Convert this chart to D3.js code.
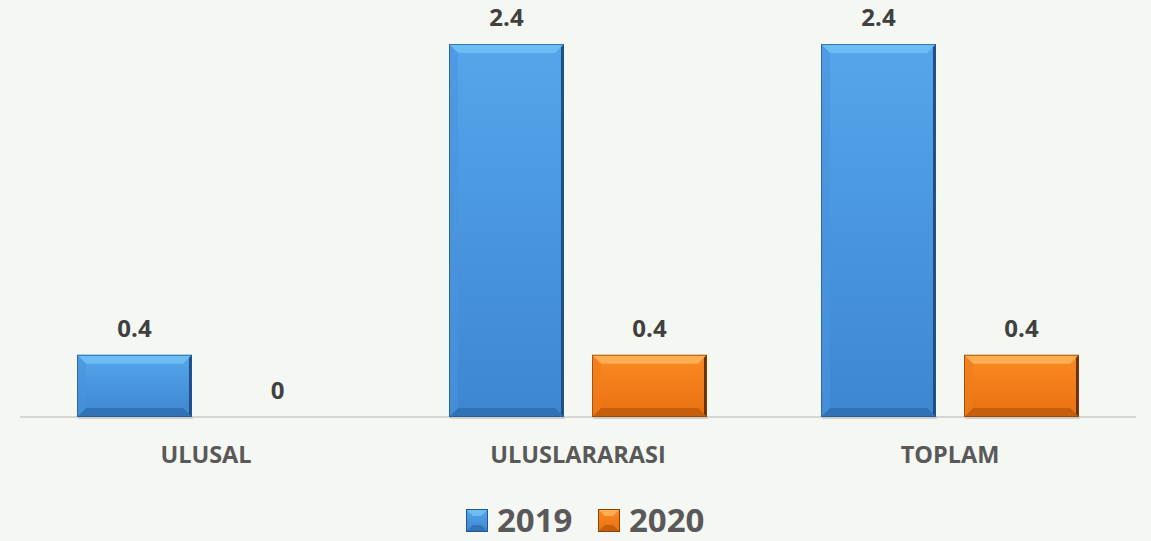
<!DOCTYPE html>
<html>
<head>
<meta charset="utf-8">
<script src="https://cdn.jsdelivr.net/npm/d3@7"></script>
<style>
  html,body{margin:0;padding:0;background:#f5f7f3;}
  svg{display:block;font-family:"Open Sans",sans-serif;}
</style>
</head>
<body>
<div id="chart"></div>
<script>
// --- data ---
const categories = ['ULUSAL','ULUSLARARASI','TOPLAM'];
const series = ['2019','2020'];
const values2019 = [0.4, 2.4, 2.4];
const values2020 = [0, 0.4, 0.4];
const valueLabels2019 = ['0.4','2.4','2.4'];
const valueLabels2020 = ['0','0.4','0.4'];

const W=1151, H=541;
// bevel palettes
const pal = {
  '2019': {a:'#55a6ec', b:'#3d86d0', top:'#6dbdf5', bot:'#2f6fb3', left:'#4a95dc', right:'#1e4f86', edge:'#24558c'},
  '2020': {a:'#fb8a24', b:'#e8700f', top:'#fdae52', bot:'#bf5a0a', left:'#f07c1a', right:'#6b3104', edge:'#8a4206'}
};

const rows = categories.map((c,i)=>({cat:c, vals:[
  {s:'2019', v:values2019[i], lab:valueLabels2019[i]},
  {s:'2020', v:values2020[i], lab:valueLabels2020[i]}
]}));

const svg=d3.select('#chart').append('svg').attr('width',W).attr('height',H);
svg.append('rect').attr('width',W).attr('height',H).attr('fill','#f5f7f3');

const defs=svg.append('defs');
series.forEach(s=>{
  const g=defs.append('linearGradient').attr('id','g'+s).attr('x1',0).attr('y1',0).attr('x2',0).attr('y2',1);
  g.append('stop').attr('offset','0%').attr('stop-color',pal[s].a);
  g.append('stop').attr('offset','100%').attr('stop-color',pal[s].b);
});

const x0=d3.scaleBand().domain(categories).range([20,1136]).paddingInner(0.3065).paddingOuter(0.15325);
const x1=d3.scaleBand().domain(series).range([0,x0.bandwidth()]).paddingInner(0.196).paddingOuter(0);
const y=d3.scaleLinear().domain([0,2.4]).range([417,44]);

// axis baseline
svg.append('line').attr('x1',20).attr('x2',1136).attr('y1',417).attr('y2',417)
  .attr('stroke','#d6d6d4').attr('stroke-width',2);

const groups=svg.append('g').selectAll('g').data(rows).join('g')
  .attr('transform',d=>`translate(${x0(d.cat)},0)`);

groups.each(function(d){
  const g=d3.select(this);
  d.vals.forEach(b=>{
    if(b.v<=0) return;
    const x=x1(b.s), w=x1.bandwidth(), yt=y(b.v), yb=y(0), h=yb-yt, p=pal[b.s];
    const bv=Math.min(9, h/3);
    // shadow
    g.append('rect').attr('x',x+1).attr('y',yb-1).attr('width',w).attr('height',3).attr('fill','#c9c9c7').attr('opacity',0.8);
    g.append('rect').attr('x',x).attr('y',yt).attr('width',w).attr('height',h).attr('fill',`url(#g${b.s})`);
    const poly=(pts,fill,op)=>g.append('polygon').attr('points',pts.map(q=>q.join(',')).join(' ')).attr('fill',fill).attr('opacity',op||1);
    poly([[x,yt],[x+w,yt],[x+w-bv,yt+bv],[x+bv,yt+bv]],p.top);
    poly([[x,yb],[x+w,yb],[x+w-bv,yb-bv],[x+bv,yb-bv]],p.bot,0.85);
    poly([[x,yt],[x+bv,yt+bv],[x+bv,yb-bv],[x,yb]],p.left,0.6);
    poly([[x+w,yt],[x+w-3,yt+3],[x+w-3,yb-3],[x+w,yb]],p.right);
    g.append('rect').attr('x',x+0.5).attr('y',yt+0.5).attr('width',w-1).attr('height',h-1)
      .attr('fill','none').attr('stroke',p.edge).attr('stroke-width',1).attr('opacity',0.7);
  });
  g.selectAll('text.val').data(d.vals).join('text').attr('class','val')
    .attr('x',b=>x1(b.s)+x1.bandwidth()/2).attr('y',b=>y(b.v)-18)
    .attr('text-anchor','middle').attr('font-size',24).attr('font-weight',700).attr('fill','#404040')
    .text(b=>b.lab);
});

// category labels
svg.append('g').selectAll('text').data(categories).join('text')
  .attr('x',c=>x0(c)+x0.bandwidth()/2).attr('y',463)
  .attr('text-anchor','middle').attr('font-size',23.5).attr('font-weight',700).attr('fill','#595959')
  .text(c=>c);

// legend
const legX={'2019':466,'2020':598};
const leg=svg.append('g').selectAll('g').data(series).join('g').attr('transform',s=>`translate(${legX[s]},509)`);
leg.each(function(s){
  const g=d3.select(this), p=pal[s], sz=22, bv=7;
  g.append('rect').attr('width',sz).attr('height',sz+1).attr('fill',`url(#g${s})`);
  const poly=(pts,fill,op)=>g.append('polygon').attr('points',pts.map(q=>q.join(',')).join(' ')).attr('fill',fill).attr('opacity',op||1);
  poly([[0,0],[sz,0],[sz-bv,bv],[bv,bv]],p.top);
  poly([[0,sz+1],[sz,sz+1],[sz-bv,sz+1-bv],[bv,sz+1-bv]],p.bot,0.85);
  g.append('rect').attr('x',0.5).attr('y',0.5).attr('width',sz-1).attr('height',sz).attr('fill','none').attr('stroke',p.edge).attr('stroke-width',1);
  g.append('text').attr('x',31).attr('y',23).attr('font-size',33).attr('font-weight',700).attr('fill','#595959').text(s);
});
</script>
</body>
</html>
